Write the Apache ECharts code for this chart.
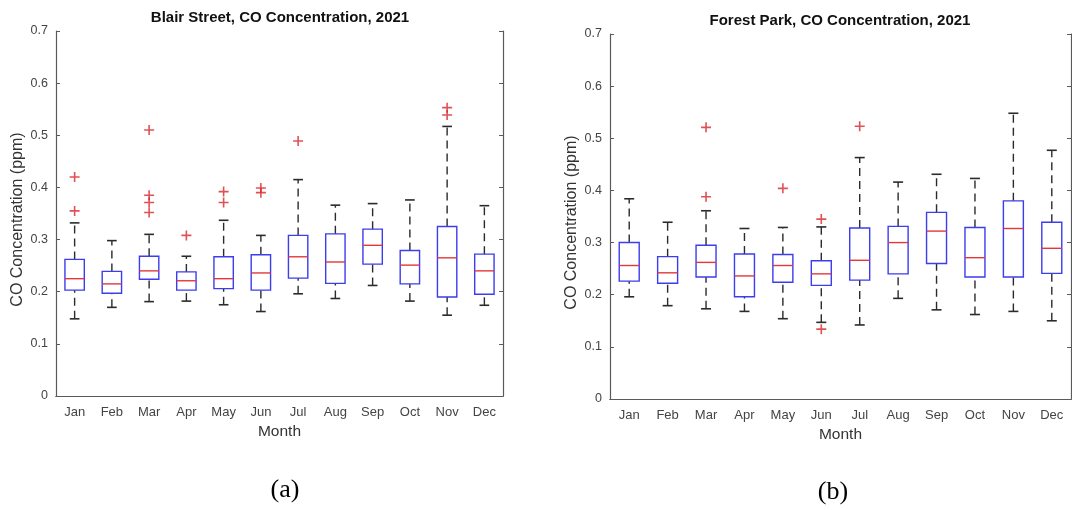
<!DOCTYPE html>
<html>
<head>
<meta charset="utf-8">
<script src="https://cdn.jsdelivr.net/npm/echarts@6/dist/echarts.min.js"></script>
<style>
  html, body { margin: 0; padding: 0; background: #fff; }
  #chart { width: 1072px; height: 510px; }
</style>
</head>
<body>
<div id="chart"></div>
<script>
// Monthly CO concentration (ppm), 2021, box statistics per month
const months = ['Jan', 'Feb', 'Mar', 'Apr', 'May', 'Jun', 'Jul', 'Aug', 'Sep', 'Oct', 'Nov', 'Dec'];
const yTicks = [0, 0.1, 0.2, 0.3, 0.4, 0.5, 0.6, 0.7];

// Blair Street
const blairLow    = [0.148, 0.170, 0.181, 0.182, 0.175, 0.162, 0.196, 0.187, 0.212, 0.182, 0.155, 0.174];
const blairQ1     = [0.203, 0.197, 0.224, 0.203, 0.206, 0.203, 0.226, 0.216, 0.253, 0.215, 0.190, 0.195];
const blairMedian = [0.225, 0.215, 0.240, 0.221, 0.225, 0.236, 0.267, 0.257, 0.289, 0.251, 0.265, 0.240];
const blairQ3     = [0.262, 0.239, 0.268, 0.238, 0.267, 0.271, 0.308, 0.311, 0.320, 0.279, 0.325, 0.272];
const blairHigh   = [0.332, 0.298, 0.310, 0.268, 0.337, 0.308, 0.415, 0.366, 0.369, 0.376, 0.517, 0.365];
const blairOutliers = [
  ['Jan', 0.420], ['Jan', 0.355],
  ['Mar', 0.510], ['Mar', 0.385], ['Mar', 0.371], ['Mar', 0.352],
  ['Apr', 0.308],
  ['May', 0.392], ['May', 0.371],
  ['Jun', 0.399], ['Jun', 0.390],
  ['Jul', 0.489],
  ['Nov', 0.553], ['Nov', 0.539]
];

// Forest Park
const forestLow    = [0.196, 0.179, 0.173, 0.168, 0.154, 0.147, 0.142, 0.193, 0.171, 0.162, 0.168, 0.150];
const forestQ1     = [0.226, 0.222, 0.234, 0.196, 0.224, 0.218, 0.228, 0.240, 0.260, 0.234, 0.234, 0.241];
const forestMedian = [0.256, 0.242, 0.262, 0.236, 0.256, 0.240, 0.266, 0.300, 0.322, 0.271, 0.327, 0.289];
const forestQ3     = [0.300, 0.273, 0.295, 0.278, 0.277, 0.265, 0.328, 0.331, 0.358, 0.329, 0.380, 0.339];
const forestHigh   = [0.384, 0.339, 0.361, 0.327, 0.329, 0.330, 0.463, 0.416, 0.431, 0.423, 0.548, 0.477];
const forestOutliers = [
  ['Mar', 0.521], ['Mar', 0.388],
  ['May', 0.404],
  ['Jun', 0.345], ['Jun', 0.134],
  ['Jul', 0.523]
];

function boxRows(low, q1, med, q3, high) {
  return months.map((m, i) => [i, low[i], q1[i], med[i], q3[i], high[i]]);
}

const frameColor = '#5a5a5a';
const labelColor = '#444';
const boxColor = '#3c3cf0';
const medianColor = '#e2383a';
const whiskerColor = '#2b2b2b';
const outlierColor = '#d8262a';

// Box with dashed whiskers and caps, positioned through the axis scales
function renderBox(params, api) {
  const i = api.value(0);
  const pLow = api.coord([i, api.value(1)]);
  const pQ1 = api.coord([i, api.value(2)]);
  const pMed = api.coord([i, api.value(3)]);
  const pQ3 = api.coord([i, api.value(4)]);
  const pHigh = api.coord([i, api.value(5)]);
  const band = api.size([1, 0])[0];
  const hw = band * 0.26;
  const cw = band * 0.13;
  const x = pMed[0];
  const dash = { stroke: whiskerColor, lineWidth: 1.4, lineDash: [8, 5] };
  const solid = { stroke: whiskerColor, lineWidth: 1.6 };
  return {
    type: 'group',
    children: [
      { type: 'line', shape: { x1: x, y1: pQ3[1], x2: x, y2: pHigh[1] }, style: dash },
      { type: 'line', shape: { x1: x, y1: pLow[1], x2: x, y2: pQ1[1] }, style: dash },
      { type: 'line', shape: { x1: x - cw, y1: pHigh[1], x2: x + cw, y2: pHigh[1] }, style: solid },
      { type: 'line', shape: { x1: x - cw, y1: pLow[1], x2: x + cw, y2: pLow[1] }, style: solid },
      { type: 'rect', shape: { x: x - hw, y: pQ3[1], width: hw * 2, height: pQ1[1] - pQ3[1] },
        style: { fill: 'rgba(255,255,255,0)', stroke: boxColor, lineWidth: 1.4 } },
      { type: 'line', shape: { x1: x - hw, y1: pMed[1], x2: x + hw, y2: pMed[1] },
        style: { stroke: medianColor, lineWidth: 1.4 } }
    ]
  };
}

const plusSymbol = 'path://M4.2,0H5.8V4.2H10V5.8H5.8V10H4.2V5.8H0V4.2H4.2Z';

const grids = [
  { left: 56, top: 31, width: 447, height: 365 },
  { left: 610, top: 34, width: 461, height: 365 }
];

const nameStyle = { color: '#333', fontSize: 15.5, fontFamily: 'Liberation Sans' };

function xAxes(gridIndex) {
  return [
    {
      type: 'category', gridIndex, data: months, position: 'bottom',
      name: 'Month', nameLocation: 'middle', nameGap: 28,
      nameTextStyle: nameStyle,
      axisLine: { lineStyle: { color: frameColor, width: 1.2 } },
      axisTick: { inside: true, alignWithLabel: true, length: 4, lineStyle: { color: frameColor } },
      axisLabel: { color: labelColor, fontSize: 13, margin: 10, fontFamily: 'Liberation Sans' },
      splitLine: { show: false }
    },
    {
      type: 'category', gridIndex, data: months, position: 'top',
      axisLine: { lineStyle: { color: frameColor, width: 1.2 } },
      axisTick: { inside: true, alignWithLabel: true, length: 4, lineStyle: { color: frameColor } },
      axisLabel: { show: false },
      splitLine: { show: false }
    }
  ];
}

function yAxes(gridIndex) {
  const common = {
    type: 'value', gridIndex, min: yTicks[0], max: yTicks[yTicks.length - 1], interval: 0.1,
    splitLine: { show: false }
  };
  return [
    Object.assign({}, common, {
      position: 'left',
      name: 'CO Concentration (ppm)', nameLocation: 'middle', nameGap: 30,
      // extra right padding nudges the rotated title slightly downward
      nameTextStyle: Object.assign({}, nameStyle, { fontSize: 16, padding: [0, 12, 0, 0] }),
      axisLine: { show: true, lineStyle: { color: frameColor, width: 1.2 } },
      axisTick: { show: true, inside: true, length: 4, lineStyle: { color: frameColor } },
      axisLabel: { color: labelColor, fontSize: 12.5, margin: 8, fontFamily: 'Liberation Sans',
        formatter: v => (v === 0 ? '0' : v.toFixed(1)) }
    }),
    Object.assign({}, common, {
      position: 'right',
      axisLine: { show: true, lineStyle: { color: frameColor, width: 1.2 } },
      axisTick: { show: true, inside: true, length: 4, lineStyle: { color: frameColor } },
      axisLabel: { show: false }
    })
  ];
}

const titleStyle = { color: '#111', fontSize: 15, fontWeight: 'bold', fontFamily: 'Liberation Sans' };
const panelStyle = { color: '#000', fontSize: 26, fontWeight: 'normal', fontFamily: 'Liberation Serif' };

const option = {
  animation: false,
  backgroundColor: '#fff',
  title: [
    { text: 'Blair Street, CO Concentration, 2021', left: 280, top: 10, textAlign: 'center', padding: 0, textStyle: titleStyle },
    { text: 'Forest Park, CO Concentration, 2021', left: 840, top: 13, textAlign: 'center', padding: 0, textStyle: titleStyle },
    { text: '(a)', left: 285, top: 477, textAlign: 'center', padding: 0, textStyle: panelStyle },
    { text: '(b)', left: 833, top: 479, textAlign: 'center', padding: 0, textStyle: panelStyle }
  ],
  grid: grids,
  xAxis: [].concat(xAxes(0), xAxes(1)),
  yAxis: [].concat(yAxes(0), yAxes(1)),
  series: [
    {
      type: 'custom', name: 'Blair Street', xAxisIndex: 0, yAxisIndex: 0,
      renderItem: renderBox, encode: { x: 0, y: [1, 2, 3, 4, 5] },
      data: boxRows(blairLow, blairQ1, blairMedian, blairQ3, blairHigh), z: 2
    },
    {
      type: 'scatter', name: 'Blair Street outliers', xAxisIndex: 0, yAxisIndex: 0,
      symbol: plusSymbol, symbolSize: 10, itemStyle: { color: outlierColor },
      data: blairOutliers, z: 3
    },
    {
      type: 'custom', name: 'Forest Park', xAxisIndex: 2, yAxisIndex: 2,
      renderItem: renderBox, encode: { x: 0, y: [1, 2, 3, 4, 5] },
      data: boxRows(forestLow, forestQ1, forestMedian, forestQ3, forestHigh), z: 2
    },
    {
      type: 'scatter', name: 'Forest Park outliers', xAxisIndex: 2, yAxisIndex: 2,
      symbol: plusSymbol, symbolSize: 10, itemStyle: { color: outlierColor },
      data: forestOutliers, z: 3
    }
  ]
};

const chart = echarts.init(document.getElementById('chart'), null, { renderer: 'canvas' });
chart.setOption(option);
</script>
</body>
</html>
